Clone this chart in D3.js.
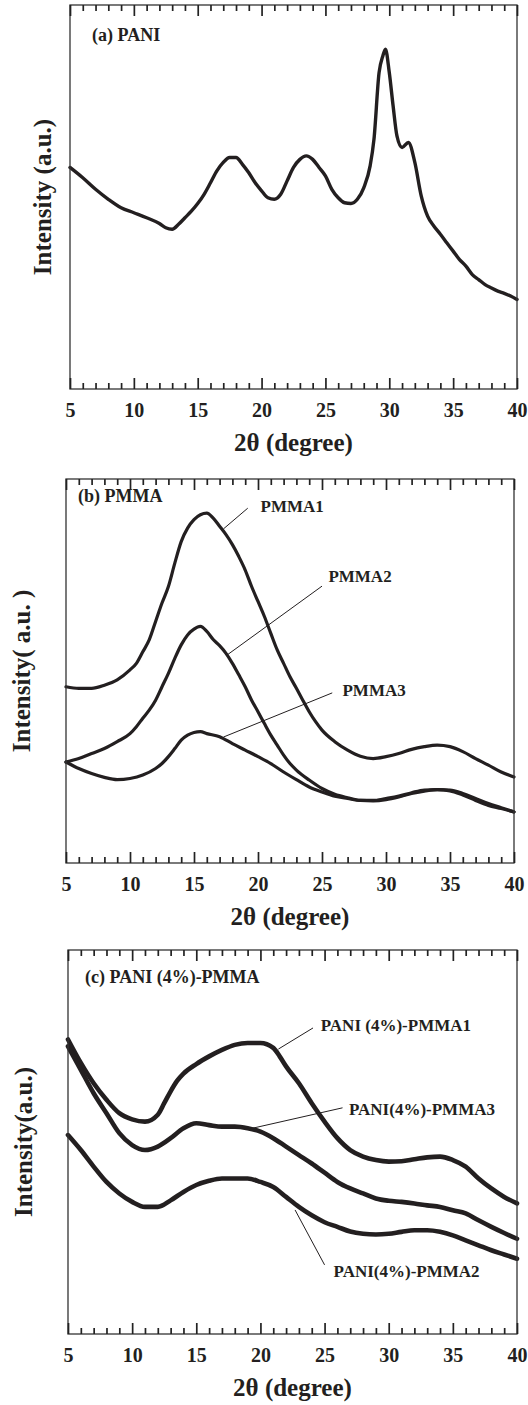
<!DOCTYPE html>
<html lang="en">
<head>
<meta charset="UTF-8">
<title>XRD patterns: PANI, PMMA, PANI(4%)-PMMA</title>
<script src="https://cdnjs.cloudflare.com/ajax/libs/d3/7.8.5/d3.min.js"></script>
<style>
  html, body { margin: 0; padding: 0; background: #fff; }
  svg { display: block; }
  text { font-family: "Liberation Serif", "Times New Roman", serif; font-weight: bold; fill: #231f20; }
  .frame { fill: none; stroke: #333; stroke-width: 1.3; }
  .curve { fill: none; stroke: #231f20; stroke-linejoin: round; stroke-linecap: round; }
  .leader { stroke: #231f20; stroke-width: 1; }
</style>
</head>
<body>
<div id="chart"></div>
<script>
// x axis: 2theta in degrees, intensity in arbitrary units (0 = bottom of frame, 100 = top)
const xTicks = [5, 10, 15, 20, 25, 30, 35, 40];
const minorTicks = [6, 7, 8, 9, 11, 12, 13, 14, 16, 17, 18, 19, 21, 22, 23, 24, 26, 27, 28, 29, 31, 32, 33, 34, 36, 37, 38, 39];

// (a) PANI
const pani = [
  [5, 57.7], [6, 55.0], [7, 52.0], [8, 49.4], [9, 47.2], [10, 45.9], [11, 44.6], [12, 43.1],
  [12.5, 42.0], [13, 41.6], [13.5, 42.9], [14, 44.6], [14.5, 46.3], [15, 48.3], [15.5, 50.7],
  [16, 53.7], [16.5, 56.8], [17, 59.0], [17.5, 60.3], [18, 60.3], [18.5, 58.5], [19, 56.3],
  [19.5, 53.7], [20, 51.6], [20.5, 49.8], [21, 49.4], [21.5, 50.7], [22, 54.2], [22.5, 57.7],
  [23, 59.8], [23.5, 60.7], [24, 59.8], [24.5, 57.7], [25, 55.5], [25.5, 52.0], [26, 49.8],
  [26.5, 48.5], [27, 48.3], [27.5, 49.4], [28, 52.4], [28.5, 58.1], [28.8, 65.0], [29.2, 82.4],
  [29.5, 86.8], [29.7, 88.5], [30, 82.4], [30.3, 73.7], [30.6, 65.9], [31, 62.9], [31.5, 64.2],
  [32, 59.0], [32.5, 50.3], [33, 45.0], [33.5, 42.4], [34, 40.3], [34.5, 38.1], [35, 35.9],
  [35.5, 33.7], [36, 32.0], [36.5, 29.8], [37, 28.5], [37.5, 27.2], [38, 26.3], [38.5, 25.5],
  [39, 24.9], [39.5, 24.2], [40, 23.3]
];

// (b) PMMA
const pmma1 = [
  [5, 45.9], [6, 45.5], [7, 45.5], [8, 46.3], [9, 47.7], [10, 50.3], [10.5, 52.0], [11, 55.0],
  [11.5, 58.1], [12, 62.9], [12.5, 67.7], [13, 72.0], [13.5, 78.1], [14, 83.7], [14.5, 87.2],
  [15, 89.4], [15.5, 90.7], [16, 91.1], [16.5, 89.8], [17, 87.7], [17.5, 85.5], [18, 82.9],
  [18.5, 79.8], [19, 76.3], [19.5, 72.0], [20, 68.1], [20.5, 64.2], [21, 59.8], [21.5, 55.5],
  [22, 52.0], [22.5, 48.5], [23, 45.5], [23.5, 42.4], [24, 39.4], [24.5, 36.8], [25, 34.6],
  [26, 31.6], [27, 29.4], [28, 27.8], [29, 27.2], [30, 27.7], [31, 28.5], [32, 29.6], [33, 30.3],
  [34, 30.7], [35, 30.3], [36, 29.0], [37, 27.2], [38, 25.5], [39, 23.7], [40, 22.4]
];
const pmma2 = [
  [5, 26.3], [6, 27.2], [7, 28.5], [8, 29.8], [9, 31.6], [10, 33.7], [10.5, 35.5], [11, 37.7],
  [11.5, 39.8], [12, 42.4], [12.5, 45.9], [13, 49.4], [13.5, 53.3], [14, 56.8], [14.5, 59.4],
  [15, 60.9], [15.5, 61.6], [16, 60.3], [16.5, 58.2], [17, 56.6], [17.5, 54.6], [18, 52.0],
  [18.5, 49.0], [19, 45.9], [19.5, 42.4], [20, 39.4], [20.5, 36.3], [21, 33.3], [21.5, 30.7],
  [22, 28.1], [22.5, 25.9], [23, 24.2], [24, 21.6], [25, 19.4], [26, 17.9], [27, 17.0],
  [28, 16.3], [29, 16.2], [30, 16.5], [31, 17.2], [32, 18.1], [33, 18.7], [34, 19.1], [35, 19.0],
  [36, 18.1], [37, 16.8], [38, 15.5], [39, 14.4], [40, 13.3]
];
const pmma3 = [
  [5, 26.3], [6, 24.6], [7, 23.3], [8, 22.3], [9, 21.7], [10, 22.0], [11, 22.9], [12, 24.6],
  [12.5, 25.9], [13, 27.7], [13.5, 29.8], [14, 32.0], [14.5, 33.3], [15, 34.0], [15.5, 34.2],
  [16, 33.7], [17, 32.9], [18, 31.1], [19, 29.4], [20, 27.7], [21, 25.9], [22, 23.7], [23, 21.7],
  [24, 19.8], [25, 18.5], [26, 17.4], [27, 16.8], [28, 16.3], [29, 16.3], [30, 16.8], [31, 17.4],
  [32, 18.3], [33, 19.0], [34, 19.1], [35, 18.8], [36, 17.7], [37, 16.3], [38, 15.0], [39, 14.2],
  [40, 13.3]
];

// (c) PANI (4%)-PMMA
const pani4pmma1 = [
  [5, 76.7], [6, 70.6], [7, 65.3], [8, 61.0], [9, 57.5], [10, 55.9], [11, 55.3], [12, 57.1],
  [12.5, 60.1], [13, 63.2], [13.5, 65.9], [14, 67.8], [15, 70.3], [16, 72.3], [17, 74.0],
  [18, 75.3], [19, 75.8], [20, 75.8], [21, 74.5], [21.5, 72.3], [22, 69.7], [23, 65.3],
  [24, 60.1], [25, 55.3], [26, 51.0], [27, 47.9], [28, 46.2], [29, 45.3], [30, 44.9], [31, 45.0],
  [32, 45.5], [33, 46.0], [34, 46.2], [35, 45.3], [36, 43.6], [37, 40.5], [38, 37.9], [39, 35.7],
  [40, 34.0]
];
const pani4pmma3 = [
  [5, 74.9], [6, 68.8], [7, 62.7], [8, 57.5], [9, 52.3], [10, 49.2], [11, 47.9], [12, 48.8],
  [13, 51.0], [14, 53.6], [15, 54.9], [16, 54.4], [17, 54.0], [18, 54.0], [19, 53.6], [20, 52.7],
  [21, 51.0], [22, 48.8], [23, 46.6], [24, 44.4], [25, 42.0], [26, 39.6], [27, 37.9], [28, 36.6],
  [29, 35.3], [30, 34.7], [31, 34.4], [32, 34.0], [33, 33.5], [34, 33.1], [35, 32.2], [36, 31.4],
  [37, 29.6], [38, 27.9], [39, 26.3], [40, 24.8]
];
const pani4pmma2 = [
  [5, 51.8], [6, 47.9], [7, 43.6], [8, 39.6], [9, 36.6], [10, 34.4], [11, 33.1], [12, 33.1],
  [13, 34.8], [14, 37.0], [15, 38.8], [16, 39.9], [17, 40.5], [18, 40.5], [19, 40.5], [20, 39.6],
  [21, 38.3], [22, 35.7], [23, 33.1], [24, 30.9], [25, 29.1], [26, 27.9], [27, 26.7], [28, 26.1],
  [29, 25.9], [30, 26.1], [31, 26.6], [32, 27.0], [33, 27.0], [34, 26.6], [35, 25.7], [36, 24.4],
  [37, 23.1], [38, 21.8], [39, 20.7], [40, 19.6]
];

// annotations: label text, label anchor (x, y), leader from (x1, y1) to curve point (x2, y2)
const notesB = [
  { text: "PMMA1", x: 20.2, y: 91.4, x1: 19.2, y1: 92.4, x2: 17.3, y2: 87.0 },
  { text: "PMMA2", x: 25.5, y: 73.2, x1: 25.0, y1: 72.1, x2: 17.6, y2: 54.2 },
  { text: "PMMA3", x: 26.6, y: 43.5, x1: 25.8, y1: 44.3, x2: 17.3, y2: 32.8 }
];
const notesC = [
  { text: "PANI (4%)-PMMA1", x: 24.7, y: 78.9, x1: 24.1, y1: 79.7, x2: 21.4, y2: 74.2 },
  { text: "PANI(4%)-PMMA3", x: 26.9, y: 57.0, x1: 26.4, y1: 58.9, x2: 19.4, y2: 53.6 },
  { text: "PANI(4%)-PMMA2", x: 25.7, y: 14.8, x1: 25.0, y1: 18.0, x2: 22.7, y2: 32.3 }
];

const panels = [
  { left: 70, right: 517, top: 5, bottom: 389, tag: "(a) PANI", tagDx: 22, tagDy: 36,
    yLabel: "Intensity (a.u.)", yLabelX: 51, series: [pani], notes: [], stroke: 3.4 },
  { left: 66, right: 514, top: 479, bottom: 863, tag: "(b) PMMA", tagDx: 12, tagDy: 23,
    yLabel: "Intensity( a.u. )", yLabelX: 30, series: [pmma1, pmma2, pmma3], notes: notesB, stroke: 3.2 },
  { left: 68, right: 517, top: 950, bottom: 1334, tag: "(c) PANI (4%)-PMMA", tagDx: 17, tagDy: 33,
    yLabel: "Intensity(a.u.)", yLabelX: 32, series: [pani4pmma1, pani4pmma3, pani4pmma2], notes: notesC, stroke: 4.6 }
];

const W = 528, H = 1405;
const svg = d3.select("#chart").append("svg").attr("width", W).attr("height", H);

panels.forEach(p => {
  const x = d3.scaleLinear().domain([5, 40]).range([p.left, p.right]);
  const y = d3.scaleLinear().domain([0, 100]).range([p.bottom, p.top]);
  const g = svg.append("g");

  // curves
  const line = d3.line().curve(d3.curveMonotoneX).x(d => x(d[0])).y(d => y(d[1]));
  p.series.forEach(s => {
    g.append("path").attr("class", "curve").attr("stroke-width", p.stroke).attr("d", line(s));
  });

  // frame
  g.append("rect").attr("class", "frame")
    .attr("x", p.left).attr("y", p.top)
    .attr("width", p.right - p.left).attr("height", p.bottom - p.top);

  // inward ticks on bottom and top (major every 5, minor every 1)
  [[p.bottom, -1], [p.top, 1]].forEach(([edge, dir]) => {
    [[xTicks, 11], [minorTicks, 6]].forEach(([vals, len]) => {
      const ax = g.append("g").attr("transform", `translate(0,${edge})`)
        .call(d3.axisBottom(x).tickValues(vals).tickSize(dir * len));
      ax.select(".domain").remove();
      ax.selectAll(".tick text").remove();
      ax.selectAll(".tick line").attr("stroke", "#222").attr("stroke-width", 1.7);
    });
  });

  // tick labels
  const ax = g.append("g").attr("transform", `translate(0,${p.bottom + 28})`)
    .call(d3.axisBottom(x).tickValues(xTicks).tickSize(0).tickPadding(0).tickFormat(d3.format("d")));
  ax.select(".domain").remove();
  ax.selectAll("text").attr("dy", 0).attr("y", 0)
    .style("font-family", '"Liberation Serif", serif').style("font-weight", "bold")
    .style("font-size", "20px").attr("fill", "#231f20");

  // axis titles
  g.append("text").attr("x", (p.left + p.right) / 2).attr("y", p.bottom + 62)
    .attr("text-anchor", "middle").style("font-size", "25px").text("2θ (degree)");
  g.append("text")
    .attr("transform", `translate(${p.yLabelX},${(p.top + p.bottom) / 2}) rotate(-90)`)
    .attr("text-anchor", "middle").style("font-size", "25px").text(p.yLabel);

  // panel tag
  g.append("text").attr("x", p.left + p.tagDx).attr("y", p.top + p.tagDy)
    .style("font-size", "18px").text(p.tag);

  // annotations
  p.notes.forEach(n => {
    g.append("line").attr("class", "leader")
      .attr("x1", x(n.x1)).attr("y1", y(n.y1)).attr("x2", x(n.x2)).attr("y2", y(n.y2));
    g.append("text").attr("x", x(n.x)).attr("y", y(n.y))
      .style("font-size", "17px").text(n.text);
  });
});
</script>
</body>
</html>
